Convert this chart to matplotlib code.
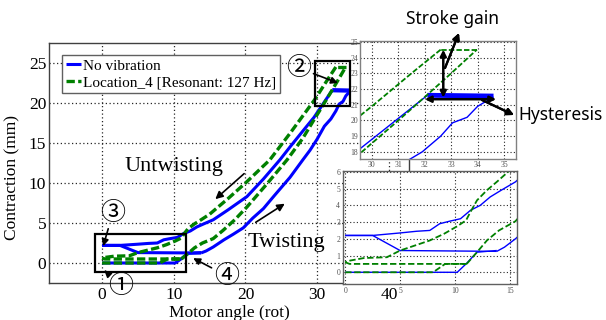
import matplotlib
matplotlib.use("Agg")
import matplotlib.pyplot as plt
from matplotlib.patches import Rectangle

plt.rcParams['font.family'] = ['Liberation Serif', 'DejaVu Serif']

# ---------------- data (motor angle [rot], contraction [mm]) ----------------
# No vibration (blue)
blue_tw1_x = [0, 10.2, 11.0, 12.0, 13.8]
blue_tw1_y = [0, 0, 0.5, 1.2, 1.3]
blue_tw2_x = [0, 2.5, 5.0, 13.8]
blue_tw2_y = [2.2, 2.2, 1.3, 1.25]
blue_tw_x = [13.8, 14.5, 15.5, 17.0, 18.3, 19.7, 21.0, 22.5, 24.0, 26.2, 28.0, 29.0,
             30.0, 31.0, 31.9, 32.6, 33.05, 33.6, 34.0, 34.35, 34.6]
blue_tw_y = [1.25, 1.5, 2.0, 2.9, 3.6, 4.4, 5.6, 6.8, 8.4, 10.7, 12.9, 14.1,
             15.5, 17.1, 18.0, 19.0, 19.85, 20.2, 20.9, 21.25, 21.5]
blue_pk_x = [34.6, 32.1]
blue_pk_y = [21.55, 21.6]
blue_un_x = [32.1, 31.05, 30.3, 29.55, 28.0, 26.2, 24.8, 22.5, 20.2, 17.5, 15.5, 14.2,
             13.2, 12.3, 11.4, 10.5, 9.5, 8.6, 7.7, 6.5, 5.0, 2.5, 0]
blue_un_y = [21.6, 20.2, 19.2, 18.2, 16.5, 14.5, 12.9, 10.5, 8.3, 6.6, 5.4, 4.9,
             4.5, 4.0, 3.7, 3.2, 3.05, 2.9, 2.5, 2.45, 2.35, 2.2, 2.2]

# Location_4 [Resonant: 127 Hz] (green)
green_tw1_x = [0, 8.0, 9.1, 11.06]
green_tw1_y = [0, 0, 0.5, 0.5]
green_tw2_x = [0, 0.4, 11.06]
green_tw2_y = [0.6, 0.5, 0.5]
green_tw_x = [11.06, 12.0, 12.9, 14.0, 15.5, 16.9, 18.5, 20.2, 23.0, 25.8, 28.0, 29.55,
              31.0, 31.94, 33.0, 33.97]
green_tw_y = [0.5, 1.2, 1.9, 2.5, 3.05, 4.1, 5.4, 7.0, 9.9, 12.9, 15.6, 17.9,
              20.0, 21.4, 23.0, 24.5]
green_pk_x = [33.97, 32.6]
green_pk_y = [24.5, 24.5]
green_un_x = [32.6, 31.5, 30.0, 29.55, 28.0, 26.2, 23.4, 20.0, 17.5, 15.0, 13.8, 12.9,
              12.0, 11.4, 11.0, 10.2, 9.0, 7.7, 5.9, 5.0, 3.8, 1.7, 0.45, 0]
green_un_y = [24.5, 23.0, 20.9, 20.3, 18.4, 16.2, 12.9, 10.0, 8.0, 6.1, 5.4, 4.9,
              4.3, 3.6, 3.1, 2.75, 2.3, 1.9, 1.5, 1.3, 0.9, 0.85, 0.7, 0.6]

labels = ['No vibration', 'Location_4 [Resonant: 127 Hz]']
main_xticks = [0, 10, 20, 30, 40]
main_yticks = [0, 5, 10, 15, 20, 25]
in1_xticks = [30, 31, 32, 33, 34, 35]
in1_yticks = [18, 19, 20, 21, 22, 23, 24, 25]
in2_xticks = [0, 5, 10, 15]
in2_yticks = [0, 1, 2, 3, 4, 5, 6]

BLUE = '#0000ff'
GREEN = '#008000'
W, H = 606, 320


def fp(x, y):
    return (x / W, 1 - y / H)


def draw(a, lw, glw, dash, pk):
    hb = None
    for xs, ys in [(blue_tw1_x, blue_tw1_y), (blue_tw2_x, blue_tw2_y),
                   (blue_tw_x, blue_tw_y), (blue_un_x, blue_un_y)]:
        l, = a.plot(xs, ys, color=BLUE, lw=lw, solid_capstyle='butt')
        hb = hb or l
    a.plot(blue_pk_x, blue_pk_y, color=BLUE, lw=lw * pk, solid_capstyle='butt')
    hg = None
    for xs, ys in [(green_tw1_x, green_tw1_y), (green_tw2_x, green_tw2_y),
                   (green_tw_x, green_tw_y), (green_un_x, green_un_y)]:
        l, = a.plot(xs, ys, color=GREEN, lw=glw, linestyle=(0, dash))
        hg = hg or l
    a.plot(green_pk_x, green_pk_y, color=GREEN, lw=glw, linestyle=(0, dash))
    return hb, hg


def style(a, spine_c, lw_grid):
    for s in a.spines.values():
        s.set_color(spine_c)
        s.set_linewidth(1.0)
    a.grid(True, linestyle=(0, (1, 2)), color='0.15', lw=lw_grid)
    a.set_axisbelow(True)


fig = plt.figure(figsize=(W / 100, H / 100), dpi=100)

# ---------------- main axes ----------------
ax = fig.add_axes([49 / W, 37 / H, 360 / W, 240 / H])
hb, hg = draw(ax, 2.2, 2.4, (2.5, 1.0), 1.4)
ax.set_xlim(-7.4, 42.8)
ax.set_ylim(-2.5, 27.5)
ax.set_xticks(main_xticks)
ax.set_yticks(main_yticks)
style(ax, '#404040', 0.9)
ax.tick_params(length=0, labelsize=12.5, pad=3)
ax.tick_params(axis='y', pad=2)
ax.set_xlabel('Motor angle (rot)', fontsize=12.5)
ax.set_ylabel('Contraction (mm)', fontsize=12.5)
ax.xaxis.set_label_coords(0.5, -0.09)
ax.yaxis.set_label_coords(-0.08, 0.44)

leg = ax.legend([hb, hg], labels, loc='upper left', bbox_to_anchor=(0.036, 0.95),
                fontsize=11, handlelength=1.0, handletextpad=0.1, labelspacing=0.2,
                borderpad=0.25, fancybox=False, framealpha=1, borderaxespad=0)
leg.get_frame().set_edgecolor('#606060')
leg.get_frame().set_linewidth(1.0)

# boxes
ax.add_patch(Rectangle((-1.0, -1.1), 12.7, 4.7, fill=False, ec='k', lw=1.6, zorder=5))
ax.add_patch(Rectangle((29.7, 19.6), 4.9, 5.65, fill=False, ec='k', lw=1.6, zorder=5))

# labels with arrows
ax.text(10.05, 12.0, 'Untwisting', fontsize=16, ha='center', va='center')
ax.text(25.7, 2.6, 'Twisting', fontsize=16, ha='center', va='center')
arr = dict(arrowstyle='-|>', color='k', lw=1.2, mutation_scale=11)
ax.annotate('', xy=(15.5, 7.75), xytext=(20.1, 11.4), arrowprops=arr)
ax.annotate('', xy=(25.8, 7.6), xytext=(21.1, 4.9), arrowprops=arr)

cfam = ['Noto Sans CJK JP', 'DejaVu Sans']
circ = [('\u2460', (2.65, -2.9), (0.3, -0.9)),
        ('\u2461', (27.35, 24.4), (32.9, 22.5)),
        ('\u2462', (1.5, 6.25), (0.15, 2.1)),
        ('\u2463', (17.4, -1.6), (12.7, 0.6))]
for t, pos, tip in circ:
    ax.annotate(t, xy=tip, xytext=pos, fontsize=18, family=cfam, ha='center',
                va='center', annotation_clip=False,
                arrowprops=dict(arrowstyle='-|>', color='k', lw=1.2,
                                mutation_scale=10, shrinkA=0, shrinkB=0))

# ---------------- inset 1 (peak region) ----------------
ax1 = fig.add_axes([360 / W, (H - 159) / H, 156 / W, 118 / H])
draw(ax1, 1.0, 1.3, (3.0, 1.2), 3.5)
ax1.set_xlim(29.55, 35.45)
ax1.set_ylim(17.55, 25.05)
ax1.set_xticks(in1_xticks)
ax1.set_yticks(in1_yticks)
style(ax1, '#808080', 0.8)
ax1.tick_params(length=0, labelsize=5.5, labelcolor='#505050', pad=1.5)
darr = dict(arrowstyle='<|-|>', color='k', lw=1.8, mutation_scale=9,
            shrinkA=0, shrinkB=0)
ax1.annotate('', xy=(32.7, 24.5), xytext=(32.7, 21.45), arrowprops=darr)
ax1.annotate('', xy=(32.0, 21.35), xytext=(34.7, 21.35), arrowprops=darr)

fig.text(*fp(452, 19), 'Stroke gain', family=['Noto Sans', 'DejaVu Sans'],
         fontsize=12.5, ha='center', va='center')
fig.text(*fp(561, 115), 'Hysteresis', family=['Noto Sans', 'DejaVu Sans'],
         fontsize=12.5, ha='center', va='center')
sarr = dict(arrowstyle='-|>', color='k', lw=1.6, mutation_scale=10,
            shrinkA=0, shrinkB=0)
fig.add_artist(ax1.annotate('', xy=fp(459, 33), xycoords='figure fraction',
                            xytext=fp(445, 68), textcoords='figure fraction',
                            arrowprops=sarr, annotation_clip=False))
fig.add_artist(ax1.annotate('', xy=fp(514, 115), xycoords='figure fraction',
                            xytext=fp(482, 100), textcoords='figure fraction',
                            arrowprops=sarr, annotation_clip=False))

# ---------------- inset 2 (start region) ----------------
ax2 = fig.add_axes([343 / W, (H - 284) / H, 174 / W, 113 / H])
draw(ax2, 1.0, 1.3, (3.5, 1.5), 1.0)
ax2.set_xlim(-0.2, 15.64)
ax2.set_ylim(-0.7, 6.05)
ax2.set_xticks(in2_xticks)
ax2.set_yticks(in2_yticks)
style(ax2, '#606060', 0.8)
ax2.tick_params(length=0, labelsize=5.5, labelcolor='#505050', pad=2)

fig.savefig('out.png', dpi=100)
